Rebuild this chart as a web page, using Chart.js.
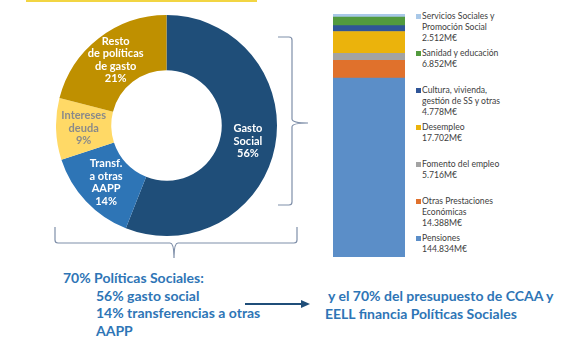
<!DOCTYPE html>
<html>
<head>
<meta charset="utf-8">
<script src="https://cdn.jsdelivr.net/npm/chart.js@4/dist/chart.umd.min.js"></script>
<style>
  body { margin: 0; width: 588px; height: 353px; background: #fff; position: relative; overflow: hidden; font-family: Lato, 'Open Sans', sans-serif; }
  canvas { position: absolute; }
  #donut { left: 56px; top: 15px; }
  #stack { left: 333px; top: 14px; }
  #deco { position: absolute; left: 0; top: 0; }
  #legend { position: absolute; left: 416px; top: 10.5px; font-size: 8.6px; color: #404040; }
  .item { position: relative; height: 37px; padding-left: 6px; line-height: 11px; }
  .item .box { position: absolute; left: 0; top: 3px; width: 5px; height: 5px; }
  .note { position: absolute; font-weight: bold; font-size: 14px; color: #2E75B6; line-height: 17.6px; white-space: nowrap; }
</style>
</head>
<body>
<svg id="deco" width="588" height="353">
  <rect x="26" y="0" width="231" height="2" fill="#F2D543"/>
  <path d="M278 37 L289 37 Q292 37 292 40 L292 119 Q292 123 308 123 Q292 123 292 127 L292 202 Q292 205 289 205 L278 205" fill="none" stroke="#7F8FA9" stroke-width="1.2"/>
  <path d="M55 227 L55 240 Q55 243 58 243 L170 243 Q174 243 174 258 Q174 243 178 243 L294 243 Q297 243 297 240 L297 227" fill="none" stroke="#7F8FA9" stroke-width="1.2"/>
  <line x1="245" y1="304" x2="303" y2="304" stroke="#1F4E79" stroke-width="2"/>
  <path d="M301 300 L310 304 L301 308 Z" fill="#1F4E79"/>
</svg>
<canvas id="donut" width="221" height="221"></canvas>
<canvas id="stack" width="72" height="243"></canvas>
<div id="legend"></div>
<div class="note" style="left:63px; top:269px;">70% Políticas Sociales:<br>
  <span style="padding-left:33px">56% gasto social</span><br>
  <span style="padding-left:33px">14% transferencias a otras</span><br>
  <span style="padding-left:33px">AAPP</span></div>
<div class="note" style="left:325px; top:287px;">&nbsp;y el 70% del presupuesto de CCAA y<br>EELL financia Políticas Sociales</div>
<script>
// Doughnut: reparto del gasto (%)
const donutLabels = ['Gasto Social', 'Transf. a otras AAPP', 'Intereses deuda', 'Resto de políticas de gasto'];
const donutLines = [['Gasto', 'Social'], ['Transf.', 'a otras', 'AAPP'], ['Intereses', 'deuda'], ['Resto', 'de políticas', 'de gasto']];
const donutValues = [56, 14, 9, 21];
const donutColors = ['#1F4E79', '#2E75B6', '#FFD966', '#BF9000'];
const donutTextColors = ['#fff', '#fff', '#8A8A8A', '#fff'];

// Barra apilada: gasto social (M€), de abajo arriba
const stackLabels = ['Pensiones', 'Otras Prestaciones Económicas', 'Fomento del empleo', 'Desempleo',
    'Cultura, vivienda, gestión de SS y otras', 'Sanidad y educación', 'Servicios Sociales y Promoción Social'];
const stackLegendLines = [['Pensiones'], ['Otras Prestaciones', 'Económicas'], ['Fomento del empleo'], ['Desempleo'],
    ['Cultura, vivienda,', 'gestión de SS y otras'], ['Sanidad y educación'], ['Servicios Sociales y', 'Promoción Social']];
const stackValues = [144834, 14388, 5716, 17702, 4778, 6852, 2512];
const stackColors = ['#5B8EC8', '#E0712C', '#A3A3A3', '#EBB30C', '#2F5597', '#529A3E', '#A9C8E8'];

function fmtMillones(v) {
    return String(v).replace(/\B(?=(\d{3})+(?!\d))/g, '.') + 'M€';
}

// draw the slice labels at each arc's centre point
const sliceLabels = {
    id: 'sliceLabels',
    afterDatasetsDraw(chart) {
        const ctx = chart.ctx;
        const meta = chart.getDatasetMeta(0);
        ctx.save();
        ctx.font = 'bold 11px Lato, sans-serif';
        ctx.textAlign = 'center';
        ctx.textBaseline = 'middle';
        meta.data.forEach((arc, i) => {
            const p = arc.tooltipPosition();
            const lines = donutLines[i].concat([donutValues[i] + '%']);
            const lh = 12.5;
            const y0 = p.y - (lines.length - 1) * lh / 2;
            ctx.fillStyle = donutTextColors[i];
            lines.forEach((t, j) => ctx.fillText(t, p.x, y0 + j * lh));
        });
        ctx.restore();
    }
};

new Chart(document.getElementById('donut'), {
    type: 'doughnut',
    data: {
        labels: donutLabels,
        datasets: [{ data: donutValues, backgroundColor: donutColors, borderWidth: 0 }]
    },
    options: {
        responsive: false,
        animation: false,
        cutout: '50%',
        plugins: { legend: { display: false }, tooltip: { enabled: false } }
    },
    plugins: [sliceLabels]
});

const total = stackValues.reduce((a, b) => a + b, 0);

const stackChart = new Chart(document.getElementById('stack'), {
    type: 'bar',
    data: {
        labels: [''],
        datasets: stackLabels.map((l, i) => ({
            label: l,
            data: [stackValues[i]],
            backgroundColor: stackColors[i],
            borderWidth: 0,
            barPercentage: 1,
            categoryPercentage: 1
        }))
    },
    options: {
        responsive: false,
        animation: false,
        layout: { padding: 0 },
        scales: {
            x: { stacked: true, display: false },
            y: { stacked: true, display: false, min: 0, max: total }
        },
        plugins: { legend: { display: false }, tooltip: { enabled: false } }
    }
});

// legend, top to bottom = reverse of the stack
const legendEl = document.getElementById('legend');
stackChart.data.datasets.slice().reverse().forEach((ds, k) => {
    const i = stackLabels.length - 1 - k;
    const div = document.createElement('div');
    div.className = 'item';
    div.innerHTML = '<span class="box" style="background:' + ds.backgroundColor + '"></span>' +
        stackLegendLines[i].join('<br>') + '<br>' + fmtMillones(stackValues[i]);
    legendEl.appendChild(div);
});
</script>
</body>
</html>
